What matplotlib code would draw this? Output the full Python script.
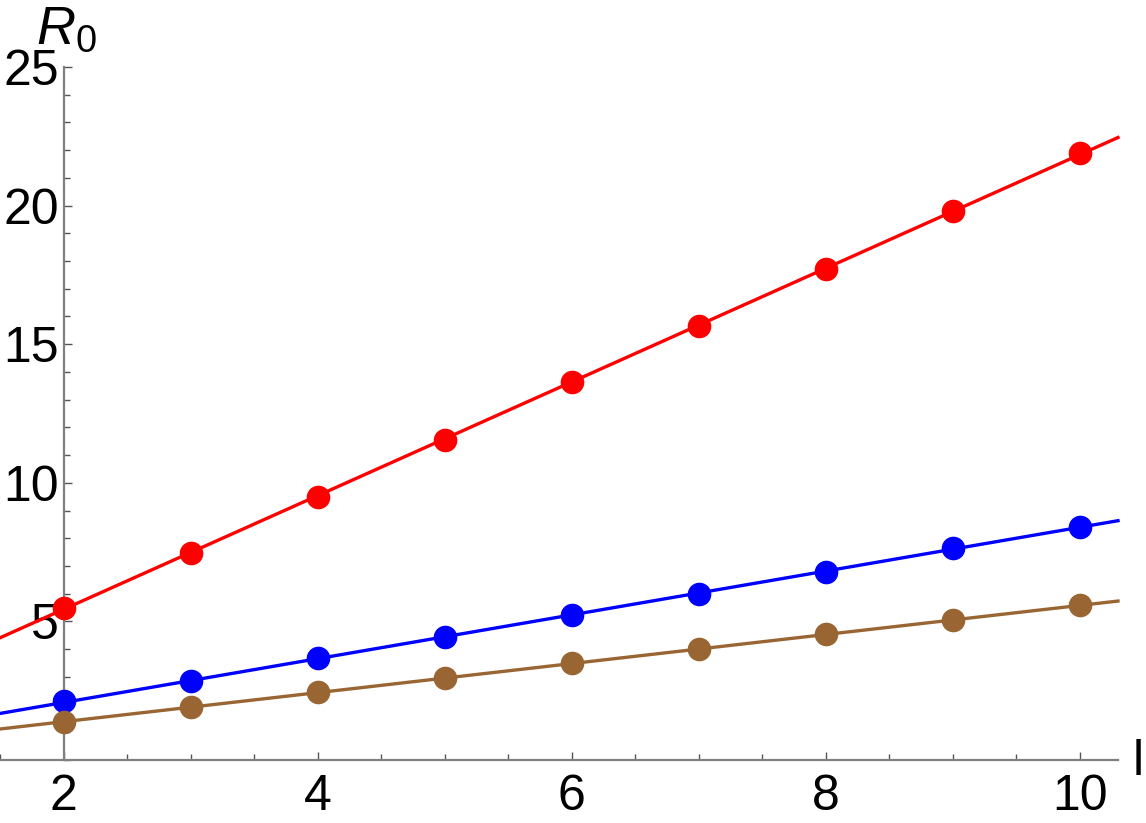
import numpy as np
import matplotlib
matplotlib.use("Agg")
import matplotlib.pyplot as plt
from matplotlib.ticker import MultipleLocator, FixedLocator

plt.rcParams['font.family'] = ['Liberation Sans', 'DejaVu Sans']
plt.rcParams['mathtext.fontset'] = 'custom'
plt.rcParams['mathtext.rm'] = 'Liberation Sans'
plt.rcParams['mathtext.it'] = 'Liberation Sans:italic'

# Data
l_values = [2, 3, 4, 5, 6, 7, 8, 9, 10]
red_R0 = [5.50, 7.48, 9.50, 11.56, 13.62, 15.67, 17.73, 19.80, 21.88]
blue_R0 = [2.12, 2.84, 3.67, 4.42, 5.22, 6.00, 6.80, 7.63, 8.42]
brown_R0 = [1.37, 1.90, 2.45, 2.95, 3.49, 4.00, 4.53, 5.04, 5.58]
series_colors = ['#ff0000', '#0000ff', '#996633']
x_ticks = [2, 4, 6, 8, 10]
y_ticks = [5, 10, 15, 20, 25]

fig = plt.figure(figsize=(11.46, 8.23), dpi=100)
ax = fig.add_axes([0.0, 63 / 823, 1118 / 1146, (760 - 67) / 823])
xlim = (1.5, 10.3)
ax.set_xlim(*xlim)
ax.set_ylim(0, 25)

xs = np.array(l_values, dtype=float)
xfit = np.array(xlim)
for ys, c in zip([red_R0, blue_R0, brown_R0], series_colors):
    k, b = np.polyfit(xs, np.array(ys), 1)
    ax.plot(xfit, k * xfit + b, color=c, lw=2.4, zorder=2, clip_on=False)
    ax.plot(xs, ys, 'o', color=c, ms=16, zorder=3, clip_on=False)

for s in ['top', 'right']:
    ax.spines[s].set_visible(False)
ax.spines['left'].set_position(('data', 2))
ax.spines['bottom'].set_position(('data', 0))
for s in ['left', 'bottom']:
    ax.spines[s].set_color('#808080')
    ax.spines[s].set_linewidth(1.6)

ax.xaxis.set_major_locator(FixedLocator(x_ticks))
ax.yaxis.set_major_locator(FixedLocator(y_ticks))
ax.xaxis.set_minor_locator(MultipleLocator(0.5))
ax.yaxis.set_minor_locator(MultipleLocator(1))
ax.tick_params(which='both', direction='in', color='#555555', width=1.0)
ax.tick_params(which='major', length=6)
ax.tick_params(which='minor', length=4)
ax.tick_params(axis='x', which='major', labelsize=36, pad=10)
ax.tick_params(axis='y', which='major', labelsize=36, pad=3.5)
ax.patch.set_alpha(0)

fig.text(36 / 1146, 1 - 44 / 823, r'$R_0$', fontsize=39, ha='left', va='baseline')
fig.text(1133 / 1146, 1 - 775 / 823, 'l', fontsize=36, ha='left', va='baseline')

fig.savefig('out.png', dpi=100)
